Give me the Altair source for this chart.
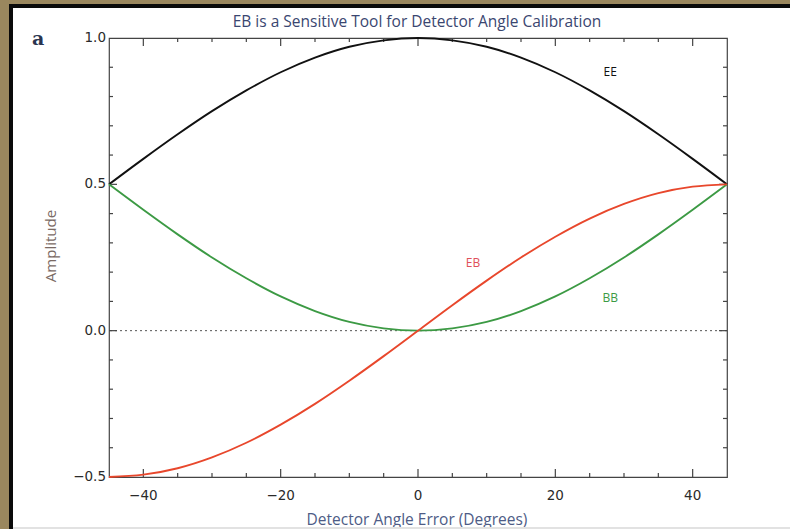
import altair as alt
import pandas as pd

# ---- data ----
angles = [-45, -40, -35, -30, -25, -20, -15, -10, -5, 0, 5, 10, 15, 20, 25, 30, 35, 40, 45]
ee_vals = [0.500, 0.587, 0.671, 0.750, 0.821, 0.883, 0.933, 0.970, 0.992, 1.000,
           0.992, 0.970, 0.933, 0.883, 0.821, 0.750, 0.671, 0.587, 0.500]
bb_vals = [0.500, 0.413, 0.329, 0.250, 0.179, 0.117, 0.067, 0.030, 0.008, 0.000,
           0.008, 0.030, 0.067, 0.117, 0.179, 0.250, 0.329, 0.413, 0.500]
eb_vals = [-0.500, -0.492, -0.470, -0.433, -0.383, -0.321, -0.250, -0.171, -0.087, 0.000,
           0.087, 0.171, 0.250, 0.321, 0.383, 0.433, 0.470, 0.492, 0.500]
series_names = ["EE", "BB", "EB"]
series_colors = ["#111111", "#3c9a44", "#e8472c"]

label_text = ["EE", "EB", "BB"]
label_x = [28.0, 8.0, 28.0]
label_y = [0.885, 0.23, 0.11]
label_colors = ["#111111", "#e0505a", "#3c9a44"]

x_tick_values = [-40, -20, 0, 20, 40]
x_tick_text = ["\u221240", "\u221220", "0", "20", "40"]
x_minor = [-35, -30, -25, -15, -10, -5, 5, 10, 15, 25, 30, 35]
y_tick_values = [-0.5, 0.0, 0.5, 1.0]
y_tick_text = ["\u22120.5", "0.0", "0.5", "1.0"]
y_major_inner = [0.0, 0.5]
y_minor = [-0.4, -0.3, -0.2, -0.1, 0.1, 0.2, 0.3, 0.4, 0.6, 0.7, 0.8, 0.9]

title_text = "EB is a Sensitive Tool for Detector Angle Calibration"
x_title = "Detector Angle Error (Degrees)"
y_title = "Amplitude"

W, H = 618, 439
HUM = "Open Sans"
WIDE = "DejaVu Sans"

rows = []
for name, vals in zip(series_names, [ee_vals, bb_vals, eb_vals]):
    for a, v in zip(angles, vals):
        rows.append({"angle": a, "value": v, "series": name})
df = pd.DataFrame(rows)

xs = alt.Scale(domain=[-45, 45], nice=False, zero=False)
ys = alt.Scale(domain=[-0.5, 1.0], nice=False, zero=False)

lines = alt.Chart(df).mark_line(strokeWidth=1.9, interpolate="monotone").encode(
    x=alt.X("angle:Q", scale=xs, axis=None),
    y=alt.Y("value:Q", scale=ys, axis=None),
    color=alt.Color("series:N", scale=alt.Scale(domain=series_names, range=series_colors), legend=None),
    order=alt.Order("angle:Q"),
)

zero = alt.Chart(pd.DataFrame({"y": [0.0]})).mark_rule(
    color="#555555", strokeDash=[2, 3], strokeWidth=1
).encode(y=alt.Y("y:Q", scale=ys, axis=None))

def xticks(vals, length):
    d = pd.DataFrame({"t": vals})
    bot = alt.Chart(d).mark_rule(color="#444444", strokeWidth=1.2).encode(
        x=alt.X("t:Q", scale=xs, axis=None), y=alt.value(H), y2=alt.value(H - length))
    top = alt.Chart(d).mark_rule(color="#444444", strokeWidth=1.2).encode(
        x=alt.X("t:Q", scale=xs, axis=None), y=alt.value(0), y2=alt.value(length))
    return [bot, top]

def yticks(vals, length):
    d = pd.DataFrame({"t": vals})
    left = alt.Chart(d).mark_rule(color="#444444", strokeWidth=1.2).encode(
        y=alt.Y("t:Q", scale=ys, axis=None), x=alt.value(0), x2=alt.value(length))
    right = alt.Chart(d).mark_rule(color="#444444", strokeWidth=1.2).encode(
        y=alt.Y("t:Q", scale=ys, axis=None), x=alt.value(W), x2=alt.value(W - length))
    return [left, right]

tick_layers = xticks(x_tick_values, 8) + xticks(x_minor, 4) + yticks(y_major_inner, 8) + yticks(y_minor, 4)

xlab = alt.Chart(pd.DataFrame({"t": x_tick_values, "s": x_tick_text})).mark_text(
    font=WIDE, fontSize=13.5, color="#2a2a2a", align="center", baseline="middle"
).encode(x=alt.X("t:Q", scale=xs, axis=None), y=alt.value(H + 19), text="s:N")

ylab = alt.Chart(pd.DataFrame({"t": y_tick_values, "s": y_tick_text})).mark_text(
    font=WIDE, fontSize=13.5, color="#2a2a2a", align="right", baseline="middle"
).encode(y=alt.Y("t:Q", scale=ys, axis=None), x=alt.value(-3), text="s:N")

lab_df = pd.DataFrame({"text": label_text, "x": label_x, "y": label_y, "c": label_colors})
labels = alt.Chart(lab_df).mark_text(font=HUM, fontSize=12).encode(
    x=alt.X("x:Q", scale=xs, axis=None),
    y=alt.Y("y:Q", scale=ys, axis=None),
    text="text:N",
    color=alt.Color("c:N", scale=None),
)

one = pd.DataFrame({"k": [0]})
panel_a = alt.Chart(one).mark_text(font="DejaVu Serif", fontSize=19, fontWeight="bold",
                                   color="#2a3550", align="left", baseline="middle").encode(
    x=alt.value(-77), y=alt.value(1), text=alt.value("a"))

title_mark = alt.Chart(one).mark_text(font=HUM, fontSize=15.5, color="#3a4670",
                                      align="center", baseline="middle").encode(
    x=alt.value(W / 2 - 1), y=alt.value(-16), text=alt.value(title_text))

xtitle_mark = alt.Chart(one).mark_text(font=HUM, fontSize=15.5, color="#4e5c86",
                                       align="center", baseline="middle").encode(
    x=alt.value(W / 2 - 1), y=alt.value(H + 43), text=alt.value(x_title))

ytitle_mark = alt.Chart(one).mark_text(font=HUM, fontSize=15, color="#7a6a64",
                                       align="center", baseline="middle", angle=270).encode(
    x=alt.value(-58), y=alt.value(208), text=alt.value(y_title))

brown_left = alt.Chart(one).mark_rect(color="#9a875e").encode(
    x=alt.value(-109), x2=alt.value(-100), y=alt.value(-38), y2=alt.value(491))
brown_top = alt.Chart(one).mark_rect(color="#9a875e").encode(
    x=alt.value(-109), x2=alt.value(681), y=alt.value(-38), y2=alt.value(-34))
black_left = alt.Chart(one).mark_rect(color="#0a0a0a").encode(
    x=alt.value(-100), x2=alt.value(-96), y=alt.value(-34), y2=alt.value(491))
black_top = alt.Chart(one).mark_rect(color="#0a0a0a").encode(
    x=alt.value(-100), x2=alt.value(681), y=alt.value(-34), y2=alt.value(-30))
bottom_edge = alt.Chart(one).mark_rect(color="#e2e2e2").encode(
    x=alt.value(-96), x2=alt.value(681), y=alt.value(489), y2=alt.value(491))

chart = alt.layer(
    zero, *tick_layers, lines, labels, xlab, ylab, panel_a, title_mark, xtitle_mark, ytitle_mark,
    brown_left, brown_top, black_left, black_top, bottom_edge,
).properties(
    width=W, height=H,
    padding={"left": 109, "top": 38, "right": 63, "bottom": 52},
    autosize=alt.AutoSizeParams(type="none"),
    background="white",
).configure_view(stroke="#444444", strokeWidth=1.2)

chart.save("out.html", embed_options={"renderer": "svg", "actions": False})
